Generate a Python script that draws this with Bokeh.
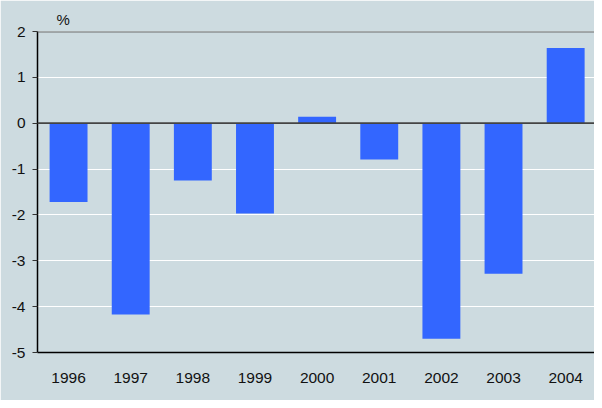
from bokeh.plotting import figure
from bokeh.models import Range1d, Span, FixedTicker
from bokeh.embed import file_html
from bokeh.resources import INLINE

years = ["1996", "1997", "1998", "1999", "2000", "2001", "2002", "2003", "2004"]
values = [-1.72, -4.17, -1.25, -1.97, 0.14, -0.79, -4.70, -3.28, 1.64]
y_ticks = [-5, -4, -3, -2, -1, 0, 1, 2]
unit_label = "%"

BG = "#CDDBE0"
BAR = "#3366FF"
FONT = "Liberation Sans"
FS = "15.5px"

xs = list(range(len(years)))

p = figure(width=594, height=400, output_backend="svg", toolbar_location=None,
           x_range=Range1d(-0.5, 8.464), y_range=Range1d(-5, 2),
           min_border_left=37, min_border_right=0, min_border_top=31, min_border_bottom=48)
p.background_fill_color = BG
p.border_fill_color = BG
p.outline_line_color = None

p.title.text = unit_label
p.title.align = "left"
p.title.offset = 19
p.title.standoff = 7
p.title.text_font = FONT
p.title.text_font_size = "15px"
p.title.text_font_style = "normal"
p.title.text_color = "#111111"

p.vbar(x=xs, top=values, bottom=0, width=0.61, color=BAR, line_color=None)

p.xaxis.ticker = FixedTicker(ticks=xs)
p.xaxis.major_label_overrides = {i: y for i, y in enumerate(years)}
p.xaxis.major_tick_line_color = None
p.xaxis.minor_tick_line_color = None
p.xaxis.axis_line_color = "black"
p.xaxis.axis_line_width = 1.5
p.xaxis.major_label_standoff = 14
p.yaxis.ticker = FixedTicker(ticks=y_ticks)
p.yaxis.major_label_overrides = {t: str(t) for t in y_ticks}
p.yaxis.major_tick_out = 5
p.yaxis.major_tick_in = 0
p.yaxis.minor_tick_line_color = None
p.yaxis.major_tick_line_color = "#333333"
p.yaxis.axis_line_color = "black"
p.yaxis.axis_line_width = 1.5
p.yaxis.major_label_standoff = 7
for ax in (p.xaxis, p.yaxis):
    ax.major_label_text_font = FONT
    ax.major_label_text_font_size = FS
    ax.major_label_text_color = "#111111"

p.xgrid.grid_line_color = None
p.ygrid.ticker = FixedTicker(ticks=y_ticks)
p.ygrid.grid_line_color = "white"
p.ygrid.grid_line_width = 1

p.add_layout(Span(location=0, dimension="width", line_color="#444444", line_width=1.8))
p.add_layout(Span(location=2, dimension="width", line_color="#6E6E6E", line_width=2))

open("out.html", "w").write(file_html(p, INLINE))
